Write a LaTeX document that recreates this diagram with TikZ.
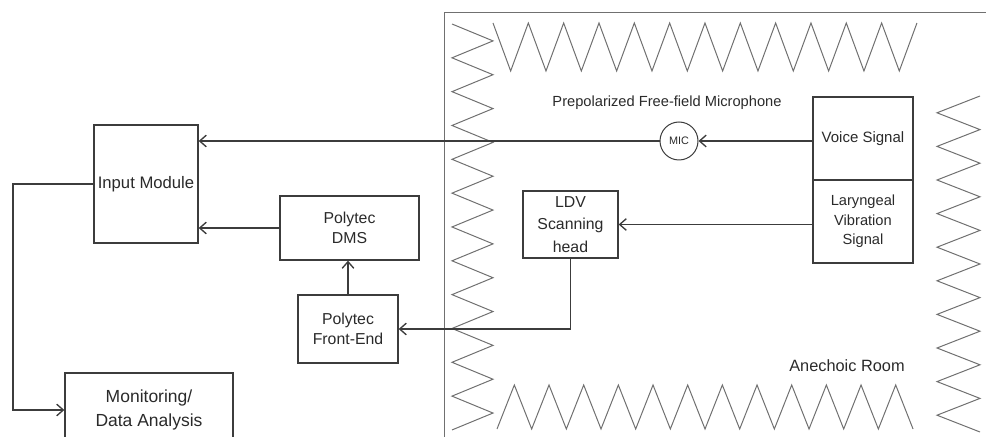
\documentclass[tikz,border=0pt]{standalone}
\usepackage{fontspec}
\setmainfont{Liberation Sans}
\usetikzlibrary{arrows.meta}
\definecolor{linegray}{HTML}{3C3C3C}
\definecolor{wallgray}{HTML}{707070}
\definecolor{txtgray}{HTML}{2A2A2A}

\begin{document}
\begin{tikzpicture}[
  x=0.6pt, y=-0.6pt,
  box/.style={rectangle, draw=linegray, line width=0.8pt, align=center, inner xsep=1pt, text=txtgray, font=\fontsize{9.5}{12}\selectfont},
  mic/.style={circle, draw=linegray, line width=0.6pt, minimum size=22.8pt, inner sep=0pt, text=txtgray, font=\fontsize{6.5}{8}\selectfont},
  arrow/.style={-{Straight Barb[length=4pt, width=7pt]}, draw=linegray, line width=0.8pt},
  wire/.style={draw=linegray, line width=0.8pt},
  wall/.style={draw=wallgray, line width=0.6pt},
  label/.style={text=txtgray, inner sep=0pt},
]
\useasboundingbox (0,0) rectangle (986,437);

% === Anechoic room walls ===
\draw[wall] (444,437) -- (444,13) -- (986,13);
\draw[wall] (493,23) \foreach \i in {1,...,12} { -- ({493+35.33*\i-17.67},71) -- ({493+35.33*\i},23) };
\draw[wall] (497,429) \foreach \i in {1,...,12} { -- ({497+34.67*\i-17.33},385) -- ({497+34.67*\i},429) };
\draw[wall] (452,24) \foreach \i in {1,...,12} { -- (493,{24+33.83*\i-16.92}) -- (452,{24+33.83*\i}) };
\draw[wall] (980,96) \foreach \i in {1,...,10} { -- (937,{96+33.6*\i-16.8}) -- (980,{96+33.6*\i}) };

% === Boxes outside the room ===
\node[box, minimum width=62.4pt, minimum height=70.8pt, font=\fontsize{10}{12}\selectfont] (inp) at (146,184) {Input Module};
\node[box, minimum width=83.4pt, minimum height=38.4pt] (dms) at (349.5,228) {Polytec\\DMS};
\node[box, minimum width=60pt, minimum height=40.8pt] (fe) at (348,329) {Polytec\\Front-End};
\node[box, minimum width=100.8pt, minimum height=44.4pt, font=\fontsize{10.5}{14}\selectfont] (mon) at (149,410) {Monitoring/\\Data Analysis};

% === Inside the room ===
\node[box, minimum width=57pt, minimum height=40.2pt, font=\fontsize{9.5}{13.5}\selectfont] (ldv) at (570.5,224.5) {LDV\\Scanning\\head};
\node[box, minimum width=60pt, minimum height=49.8pt, font=\fontsize{9}{12}\selectfont] (voice) at (863,138.5) {Voice Signal};
\node[box, minimum width=60pt, minimum height=49.8pt, font=\fontsize{8.8}{11.8}\selectfont] (lar) at (863,221.5) {Laryngeal\\Vibration\\Signal};
\node[mic] (mic) at (679,141) {MIC};

\node[label, font=\fontsize{8.8}{10}\selectfont] (miclbl) at (667,103) {Prepolarized Free-field Microphone};
\node[label, font=\fontsize{9.8}{11}\selectfont] (room) at (847,366) {Anechoic Room};

% === Connections ===
\draw[arrow] (voice.west |- mic.east) -- (mic.east);
\draw[arrow] (mic.west) -- (mic.west -| inp.east);
\draw[arrow] (lar.west |- ldv.east) -- (ldv.east);
\draw[arrow] (ldv.south) |- (fe.east);
\draw[arrow] (fe.north) -- (fe.north |- dms.south);
\draw[arrow] (dms.west) -- (dms.west -| inp.east);
\coordinate (bend) at (13,186);
\draw[arrow] (inp.west) -- (inp.west -| bend) |- (mon.west);

\end{tikzpicture}
\end{document}
